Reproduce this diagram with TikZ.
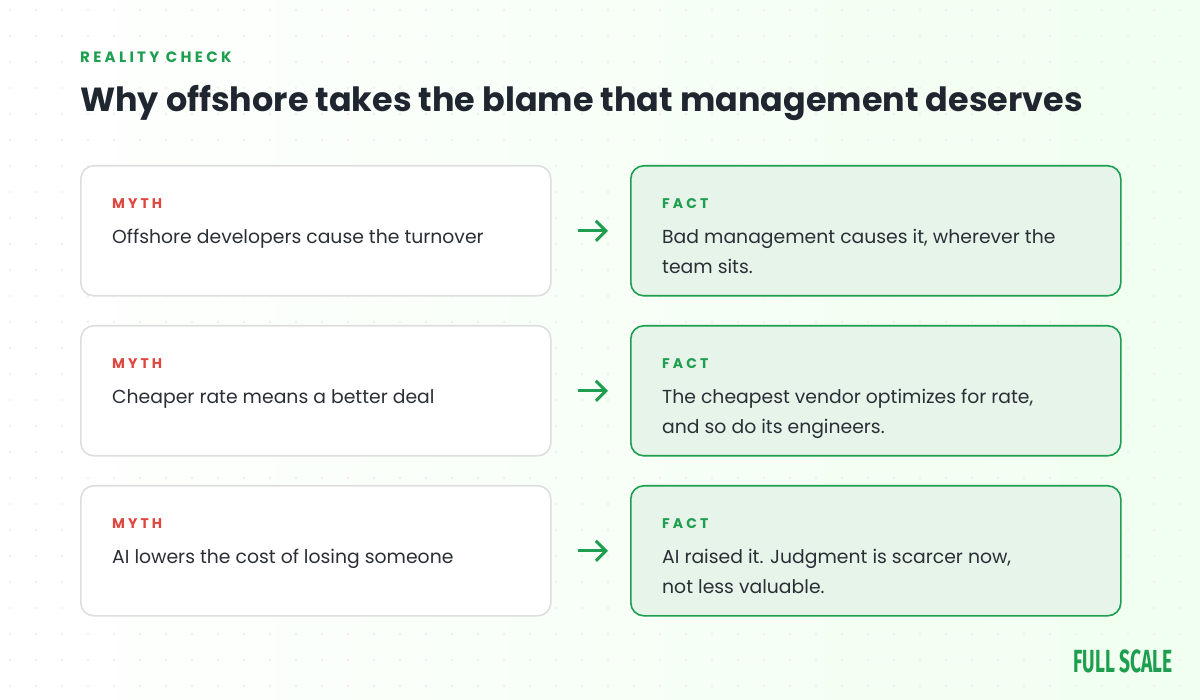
\documentclass[tikz,border=0pt]{standalone}
\usepackage{fontspec}
\setmainfont{Poppins}
\newfontfamily\spaced[LetterSpace=22]{Poppins}
\newfontfamily\logofont{Fira Sans}
\usetikzlibrary{positioning,arrows.meta}
\definecolor{fsgreen}{HTML}{1E9E4F}
\definecolor{mythred}{HTML}{E0463F}
\definecolor{inkdark}{HTML}{1F2630}
\definecolor{bodytext}{HTML}{2A2F36}
\definecolor{factfill}{HTML}{E6F4EA}

\tikzset{
  card/.style={draw=black!13,line width=1.6pt,fill=white,rounded corners=13pt,
    minimum width=470pt,minimum height=130pt,anchor=north west},
  fact/.style={card,draw=fsgreen,fill=factfill,minimum width=490pt},
  tag/.style={anchor=base west,inner sep=0pt,font=\spaced\bfseries\fontsize{14}{14}\selectfont},
  body/.style={anchor=north west,inner sep=0pt,align=left,text=bodytext,
    font=\fontsize{18.8}{30}\selectfont},
  link/.style={-{Straight Barb[length=10pt,width=20pt]},draw=fsgreen,line width=3pt}
}

\begin{document}
\begin{tikzpicture}[x=1pt,y=-1pt]

\shade[left color=white,right color=green!6] (0,0) rectangle (1200,700);
\useasboundingbox (0,0) rectangle (1200,700);
\foreach \i in {0,...,46}
  \foreach \j in {0,...,27}
    \fill[black!6] (10+26*\i,10+26*\j) circle (1.3pt);

\node[anchor=base west,inner sep=0pt,text=fsgreen,font=\spaced\bfseries\fontsize{15}{15}\selectfont]
  (kicker) at (80,63) {REALITY CHECK};
\node[anchor=base west,inner sep=0pt,text=inkdark,font=\bfseries\fontsize{33.4}{34}\selectfont]
  (title) at (80,112) {Why offshore takes the blame that management deserves};

% rows
\node[card] (m1) at (80,165) {};
\node[card] (m2) at (80,325) {};
\node[card] (m3) at (80,485) {};
\node[fact] (f1) at (630,165) {};
\node[fact] (f2) at (630,325) {};
\node[fact] (f3) at (630,485) {};

\node[tag,text=mythred] (m1t) at (112,209) {MYTH};
\node[body] (m1b) at (112,229) {Offshore developers cause the turnover};
\node[tag,text=mythred] (m2t) at (112,369) {MYTH};
\node[body] (m2b) at (112,389) {Cheaper rate means a better deal};
\node[tag,text=mythred] (m3t) at (112,529) {MYTH};
\node[body] (m3b) at (112,549) {AI lowers the cost of losing someone};

\node[tag,text=fsgreen] (f1t) at (662,209) {FACT};
\node[body] (f1b) at (662,229) {Bad management causes it, wherever the\\team sits.};
\node[tag,text=fsgreen] (f2t) at (662,369) {FACT};
\node[body] (f2b) at (662,389) {The cheapest vendor optimizes for rate,\\and so do its engineers.};
\node[tag,text=fsgreen] (f3t) at (662,529) {FACT};
\node[body] (f3b) at (662,549) {AI raised it. Judgment is scarcer now,\\not less valuable.};

\draw[link] ([xshift=26pt]m1.east) -- ([xshift=-22pt]f1.west);
\draw[link] ([xshift=26pt]m2.east) -- ([xshift=-22pt]f2.west);
\draw[link] ([xshift=26pt]m3.east) -- ([xshift=-22pt]f3.west);

\node[anchor=base east,inner sep=0pt,text=fsgreen,font=\logofont\bfseries\fontsize{32}{32}\selectfont]
  (logo) at (1173,672) {\scalebox{0.6}[1]{FULL SCALE}};

\end{tikzpicture}
\end{document}
